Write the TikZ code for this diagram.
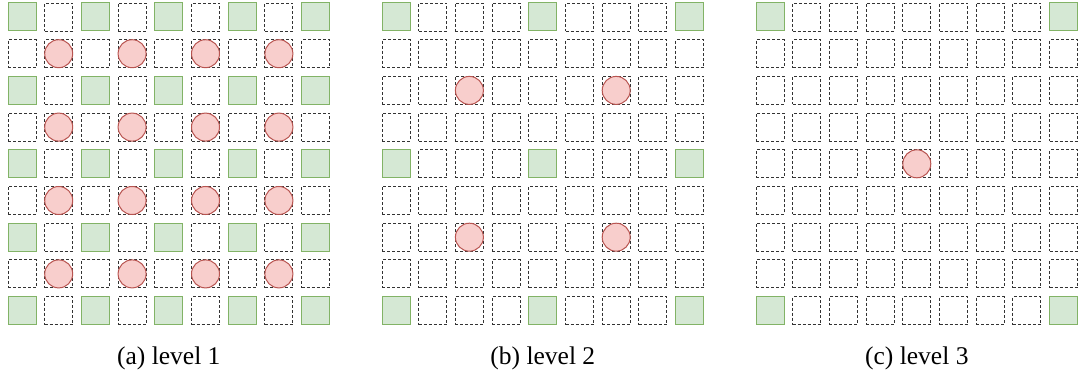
\documentclass[tikz,border=0pt]{standalone}
\usepackage{fontspec}
\setmainfont{Liberation Serif}
\newfontfamily\capfont{Liberation Serif}
\definecolor{gfill}{HTML}{D5E8D4}
\definecolor{gdraw}{HTML}{82B366}
\definecolor{rfill}{HTML}{F8CECC}
\definecolor{rdraw}{HTML}{B85450}
\begin{document}
\begin{tikzpicture}[x=1pt,y=-1pt,
  cell/.style={draw=black!80,dash pattern=on 3pt off 2pt,line width=0.9pt,minimum size=28pt,inner sep=0pt,outer sep=0pt},
  anchorcell/.style={draw=gdraw,fill=gfill,line width=1pt,minimum size=28pt,inner sep=0pt,outer sep=0pt},
  dot/.style={circle,draw=rdraw,fill=rfill,line width=1pt,minimum size=28pt,inner sep=0pt},
  captext/.style={font=\capfont\fontsize{25.5}{30}\selectfont,inner sep=0pt,anchor=base}]
\useasboundingbox (0,0) rectangle (1080,374);
\def\pitch{36.7}
% grids: offset x 8, 382, 756
\foreach \g/\ox/\s in {1/8/2,2/382/4,3/756/8}{
  \foreach \r in {0,...,8}{
    \foreach \c in {0,...,8}{
      \pgfmathtruncatemacro\ra{mod(\r,\s)}
      \pgfmathtruncatemacro\ca{mod(\c,\s)}
      \pgfmathtruncatemacro\isg{(\ra==0)&&(\ca==0)}
      \ifnum\isg=1
        \node[anchorcell] (g\g-\r-\c) at ({\ox+14+\c*\pitch},{3+14+\r*\pitch}) {};
      \else
        \node[cell] (g\g-\r-\c) at ({\ox+14+\c*\pitch},{3+14+\r*\pitch}) {};
      \fi
    }
  }
}
% circles
\foreach \r/\c in {1/1,1/3,1/5,1/7,3/1,3/3,3/5,3/7,5/1,5/3,5/5,5/7,7/1,7/3,7/5,7/7}{
  \node[dot] (d1-\r-\c) at (g1-\r-\c) {};
}
\foreach \r/\c in {2/2,2/6,6/2,6/6}{
  \node[dot] (d2-\r-\c) at (g2-\r-\c) {};
}
\node[dot] (d3-4-4) at (g3-4-4) {};
% captions
\node[captext] (capa) at (168.8,364) {(a) level 1};
\node[captext] (capb) at (542.8,364) {(b) level 2};
\node[captext] (capc) at (916.8,364) {(c) level 3};
\end{tikzpicture}
\end{document}
